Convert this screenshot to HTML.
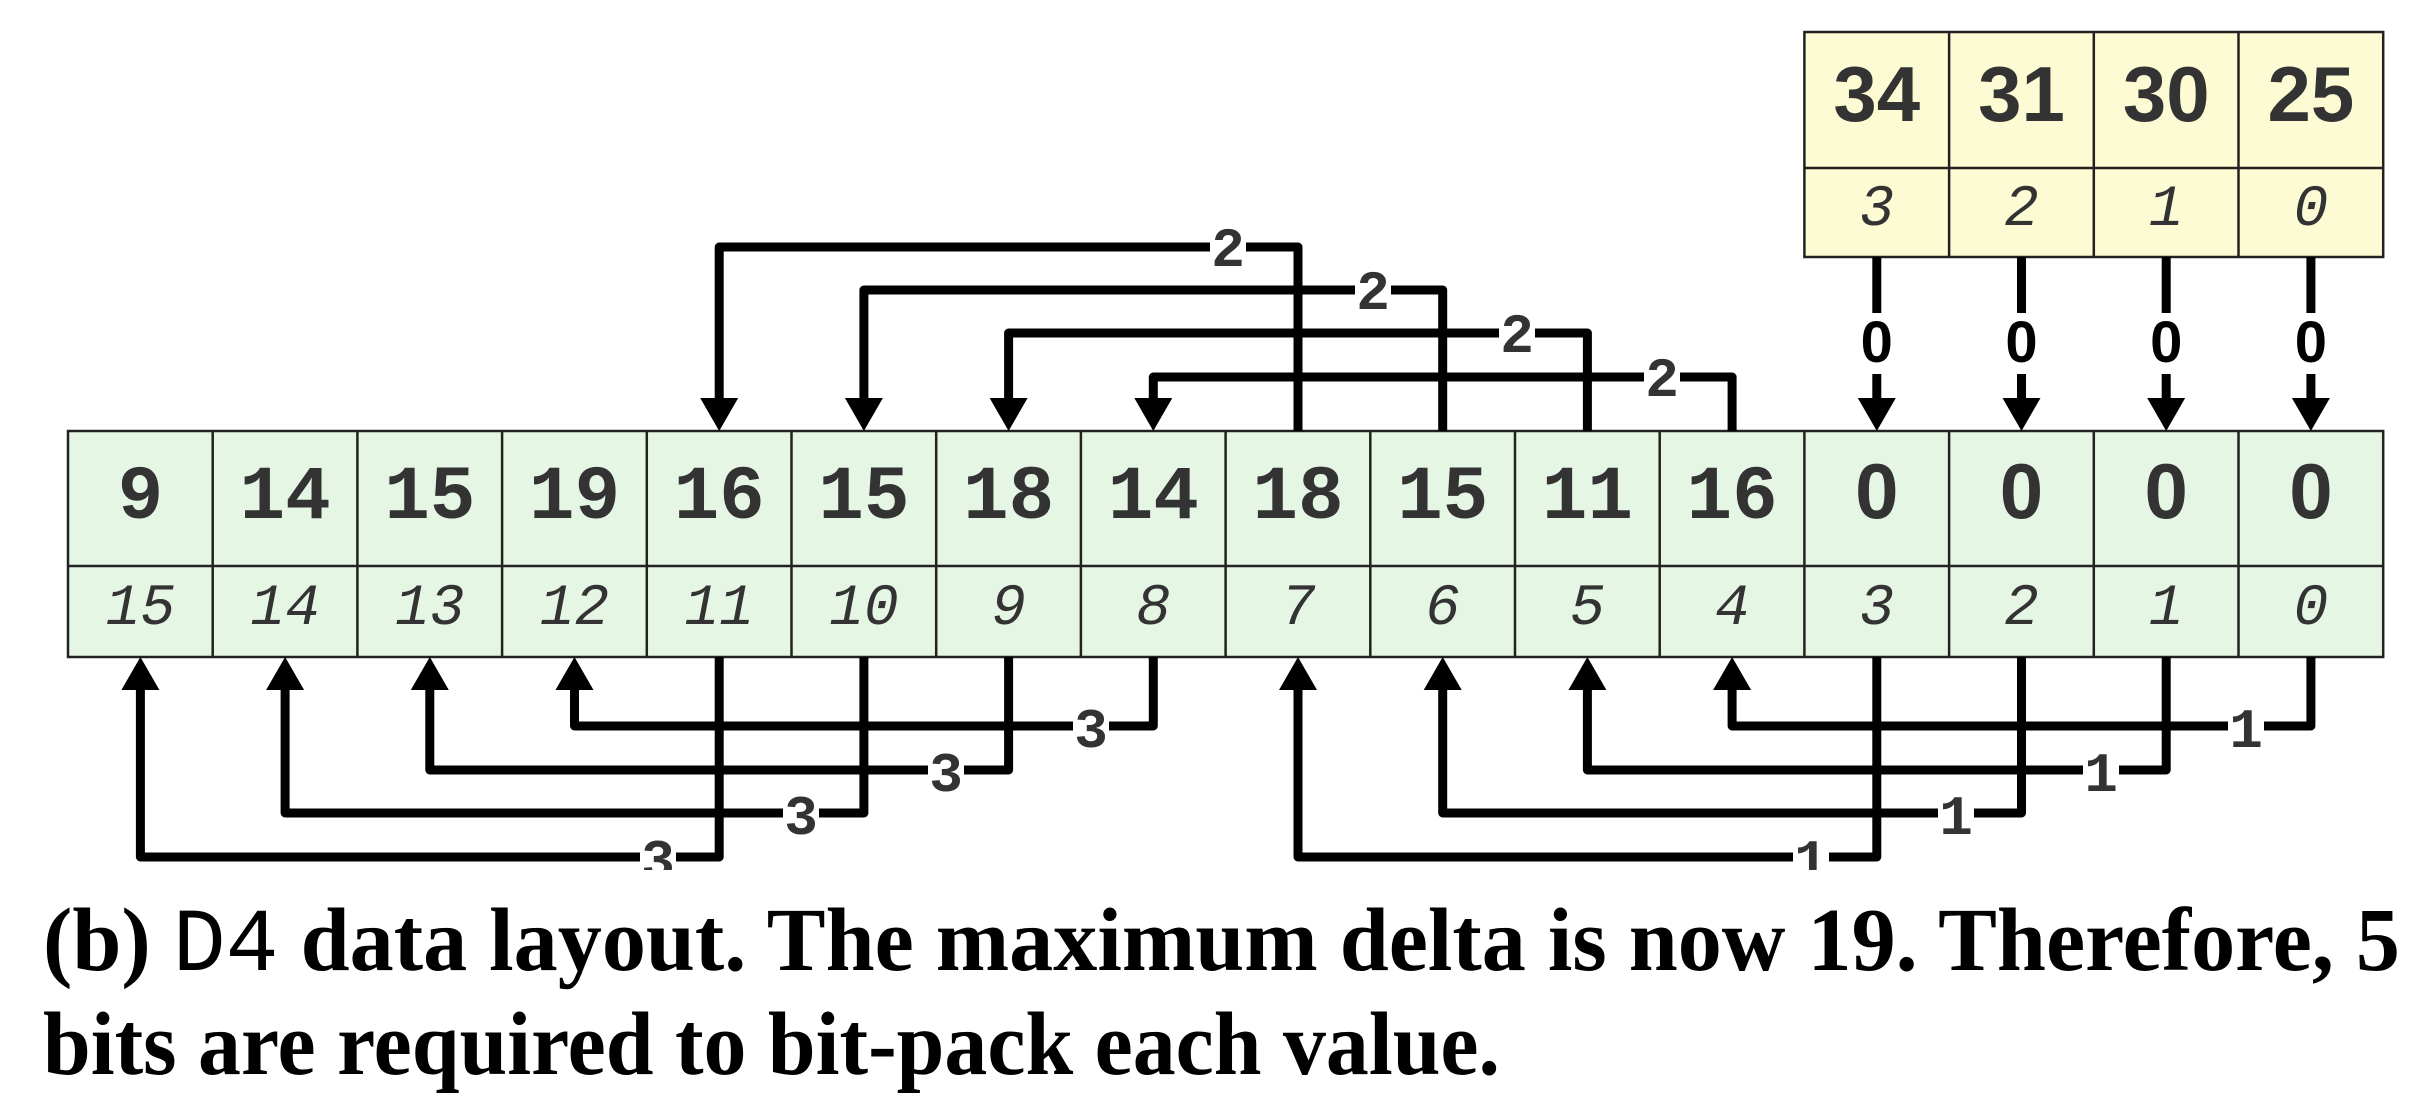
<!DOCTYPE html>
<html><head><meta charset="utf-8"><style>
html,body{margin:0;padding:0;background:#fff;}
svg{display:block;}
.v{font-family:"Liberation Mono",monospace;font-weight:bold;font-size:76px;fill:#333;}
.s{font-family:"Liberation Sans",sans-serif;font-weight:bold;font-size:78px;fill:#333;}
.i{font-family:"Liberation Mono",monospace;font-style:italic;font-size:58px;fill:#333;}
.l{font-family:"Liberation Mono",monospace;font-weight:bold;font-size:56px;fill:#333;}
.z{font-family:"Liberation Sans",sans-serif;font-weight:bold;font-size:58px;fill:#000;}
.c{font-family:"Liberation Serif",serif;font-weight:bold;font-size:90px;fill:#000;}
.m{font-family:"Liberation Mono",monospace;font-weight:normal;}
</style></head><body>
<svg width="2430" height="1098" viewBox="0 0 2430 1098" xmlns="http://www.w3.org/2000/svg">
<rect x="1804.4" y="32" width="578.8" height="225" fill="#fdfbd3" stroke="#222" stroke-width="2.5"/>
<line x1="1804.4" y1="168" x2="2383.2" y2="168" stroke="#222" stroke-width="2.5"/>
<line x1="1949.1" y1="32" x2="1949.1" y2="257" stroke="#222" stroke-width="2.5"/>
<line x1="2093.8" y1="32" x2="2093.8" y2="257" stroke="#222" stroke-width="2.5"/>
<line x1="2238.5" y1="32" x2="2238.5" y2="257" stroke="#222" stroke-width="2.5"/>
<g text-anchor="middle">
<text class="s" x="1876.8" y="121">34</text><text class="s" x="2021.5" y="121">31</text><text class="s" x="2166.2" y="121">30</text><text class="s" x="2310.9" y="121">25</text>
<text class="i" x="1876.8" y="225">3</text><text class="i" x="2021.5" y="225">2</text><text class="i" x="2166.2" y="225">1</text><text class="i" x="2310.9" y="225">0</text>
</g>
<rect x="68" y="431" width="2315.2" height="226" fill="#e6f6e4" stroke="#222" stroke-width="2.5"/>
<line x1="68" y1="566" x2="2383.2" y2="566" stroke="#222" stroke-width="2.5"/>
<g stroke="#222" stroke-width="2.5">
<line x1="212.7" y1="431" x2="212.7" y2="657"/><line x1="357.4" y1="431" x2="357.4" y2="657"/><line x1="502.1" y1="431" x2="502.1" y2="657"/><line x1="646.8" y1="431" x2="646.8" y2="657"/><line x1="791.5" y1="431" x2="791.5" y2="657"/><line x1="936.2" y1="431" x2="936.2" y2="657"/><line x1="1080.9" y1="431" x2="1080.9" y2="657"/><line x1="1225.6" y1="431" x2="1225.6" y2="657"/><line x1="1370.3" y1="431" x2="1370.3" y2="657"/><line x1="1515" y1="431" x2="1515" y2="657"/><line x1="1659.7" y1="431" x2="1659.7" y2="657"/><line x1="1804.4" y1="431" x2="1804.4" y2="657"/><line x1="1949.1" y1="431" x2="1949.1" y2="657"/><line x1="2093.8" y1="431" x2="2093.8" y2="657"/><line x1="2238.5" y1="431" x2="2238.5" y2="657"/>
</g>
<g text-anchor="middle">
<text class="v" x="140.4" y="518">9</text><text class="v" x="285.1" y="518">14</text><text class="v" x="429.8" y="518">15</text><text class="v" x="574.5" y="518">19</text><text class="v" x="719.2" y="518">16</text><text class="v" x="863.9" y="518">15</text><text class="v" x="1008.6" y="518">18</text><text class="v" x="1153.3" y="518">14</text><text class="v" x="1298" y="518">18</text><text class="v" x="1442.7" y="518">15</text><text class="v" x="1587.4" y="518">11</text><text class="v" x="1732.1" y="518">16</text><text class="s" x="1876.8" y="518">0</text><text class="s" x="2021.5" y="518">0</text><text class="s" x="2166.2" y="518">0</text><text class="s" x="2310.9" y="518">0</text>
<text class="i" x="140.4" y="624">15</text><text class="i" x="285.1" y="624">14</text><text class="i" x="429.8" y="624">13</text><text class="i" x="574.5" y="624">12</text><text class="i" x="719.2" y="624">11</text><text class="i" x="863.9" y="624">10</text><text class="i" x="1008.6" y="624">9</text><text class="i" x="1153.3" y="624">8</text><text class="i" x="1298" y="624">7</text><text class="i" x="1442.7" y="624">6</text><text class="i" x="1587.4" y="624">5</text><text class="i" x="1732.1" y="624">4</text><text class="i" x="1876.8" y="624">3</text><text class="i" x="2021.5" y="624">2</text><text class="i" x="2166.2" y="624">1</text><text class="i" x="2310.9" y="624">0</text>
</g>
<g stroke="#000" stroke-width="9" fill="none">
<line x1="1876.8" y1="257" x2="1876.8" y2="313"/><line x1="1876.8" y1="374" x2="1876.8" y2="400"/>
<line x1="2021.5" y1="257" x2="2021.5" y2="313"/><line x1="2021.5" y1="374" x2="2021.5" y2="400"/>
<line x1="2166.2" y1="257" x2="2166.2" y2="313"/><line x1="2166.2" y1="374" x2="2166.2" y2="400"/>
<line x1="2310.9" y1="257" x2="2310.9" y2="313"/><line x1="2310.9" y1="374" x2="2310.9" y2="400"/>
</g>
<g fill="#000">
<polygon points="1857.8,398 1895.8,398 1876.8,431"/><polygon points="2002.5,398 2040.5,398 2021.5,431"/><polygon points="2147.2,398 2185.2,398 2166.2,431"/><polygon points="2291.9,398 2329.9,398 2310.9,431"/>
</g>
<g text-anchor="middle">
<text class="z" x="1876.8" y="362">0</text><text class="z" x="2021.5" y="362">0</text><text class="z" x="2166.2" y="362">0</text><text class="z" x="2310.9" y="362">0</text>
</g>
<g stroke="#000" stroke-width="9" fill="none" stroke-linejoin="round">
<path d="M1298,431 V247 H719.2 V400"/>
<path d="M1442.7,431 V290 H863.9 V400"/>
<path d="M1587.4,431 V333 H1008.6 V400"/>
<path d="M1732.1,431 V377 H1153.3 V400"/>
</g>
<g fill="#000">
<polygon points="700.2,398 738.2,398 719.2,431"/><polygon points="844.9,398 882.9,398 863.9,431"/><polygon points="989.6,398 1027.6,398 1008.6,431"/><polygon points="1134.3,398 1172.3,398 1153.3,431"/>
</g>
<g fill="#fff">
<rect x="1210" y="225" width="36" height="46"/><rect x="1355" y="268" width="36" height="46"/><rect x="1499" y="311" width="36" height="46"/><rect x="1644" y="355" width="36" height="46"/>
</g>
<g text-anchor="middle">
<text class="l" x="1228" y="266">2</text><text class="l" x="1373" y="309">2</text><text class="l" x="1517" y="352">2</text><text class="l" x="1662" y="396">2</text>
</g>
<svg x="0" y="0" width="2430" height="870" overflow="hidden">
<g stroke="#000" stroke-width="9" fill="none" stroke-linejoin="round">
<path d="M1153.3,657 V726 H574.5 V688"/>
<path d="M1008.6,657 V770 H429.8 V688"/>
<path d="M863.9,657 V813 H285.1 V688"/>
<path d="M719.2,657 V857 H140.4 V688"/>
<path d="M2310.9,657 V726 H1732.1 V688"/>
<path d="M2166.2,657 V770 H1587.4 V688"/>
<path d="M2021.5,657 V813 H1442.7 V688"/>
<path d="M1876.8,657 V857 H1298 V688"/>
</g>
<g fill="#000">
<polygon points="555.5,690 593.5,690 574.5,657"/><polygon points="410.8,690 448.8,690 429.8,657"/><polygon points="266.1,690 304.1,690 285.1,657"/><polygon points="121.4,690 159.4,690 140.4,657"/>
<polygon points="1713.1,690 1751.1,690 1732.1,657"/><polygon points="1568.4,690 1606.4,690 1587.4,657"/><polygon points="1423.7,690 1461.7,690 1442.7,657"/><polygon points="1279,690 1317,690 1298,657"/>
</g>
<g fill="#fff">
<rect x="1073" y="704" width="36" height="46"/><rect x="928" y="748" width="36" height="46"/><rect x="783" y="791" width="36" height="46"/><rect x="640" y="835" width="36" height="46"/>
<rect x="2228" y="704" width="36" height="46"/><rect x="2083" y="748" width="36" height="46"/><rect x="1938" y="791" width="36" height="46"/><rect x="1793" y="835" width="36" height="46"/>
</g>
<g text-anchor="middle">
<text class="l" x="1091" y="747">3</text><text class="l" x="946" y="791">3</text><text class="l" x="801" y="834">3</text><text class="l" x="658" y="878">3</text>
<text class="l" x="2246" y="747">1</text><text class="l" x="2101" y="791">1</text><text class="l" x="1956" y="834">1</text><text class="l" x="1811" y="878">1</text>
</g>
</svg>
<text class="c" x="43" y="970" textLength="2357" lengthAdjust="spacingAndGlyphs">(b) <tspan class="m">D4</tspan> data layout. The maximum delta is now 19. Therefore, 5</text>
<text class="c" x="43" y="1074" textLength="1457" lengthAdjust="spacingAndGlyphs">bits are required to bit-pack each value.</text>
</svg>
</body></html>
